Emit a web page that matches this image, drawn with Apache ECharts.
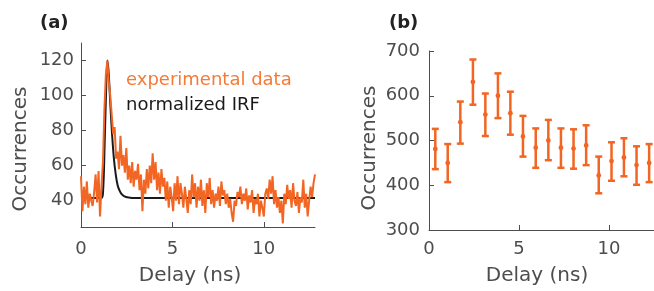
<!DOCTYPE html>
<html lang="en">
<head>
    <meta charset="UTF-8">
    <title>Delay histograms</title>
    <script src="https://cdn.jsdelivr.net/npm/echarts@6/dist/echarts.min.js"></script>
    <style>
        body, html {
            margin: 0;
            width: 100%;
            height: 100%;
            background: #fff;
        }
        #chart {
            width: 654px;
            height: 291px;
        }
    </style>
</head>
<body>
<div id="chart"></div>
<script>

    // (a) experimental trace, one value per 0.08 ns bin starting at 0
    let traceStep = 0.08;
    let traceValues = [
        54, 34, 48, 38, 51, 36, 44, 40, 37, 45, 55, 39, 57, 31,
        48, 62, 92, 112, 120, 108, 100, 99, 78, 82, 64, 68, 58, 77, 60, 66,
        56, 70, 52, 60, 50, 62, 48, 57, 52, 61, 46, 55, 34, 52, 44, 58,
        47, 60, 50, 67, 52, 62, 46, 56, 44, 58, 48, 53, 40, 51, 36, 48,
        42, 34, 50, 40, 54, 38, 50, 44, 36, 48, 41, 33, 46, 38, 55, 42,
        50, 36, 48, 40, 52, 37, 46, 33, 50, 42, 53, 38, 46, 36, 44, 40,
        48, 37, 51, 43, 46, 38, 44, 36, 41, 33, 28, 40, 37, 45, 42, 48,
        38, 44, 40, 47, 35, 43, 39, 46, 33, 41, 38, 44, 31, 40, 36, 31,
        44, 47, 41, 52, 44, 54, 38, 46, 36, 42, 33, 40, 27, 44, 38, 49,
        41, 46, 36, 50, 40, 37, 45, 33, 42, 39, 52, 36, 44, 31, 40, 48,
        42, 50, 55
    ];

    // (a) normalized IRF
    let irfTimes = [0, 1.1, 1.2, 1.3, 1.38, 1.45, 1.52, 1.6, 1.7, 1.8, 1.9, 2.0, 2.1, 2.2, 2.35, 2.6, 3.0, 12.8];
    let irfValues = [41.5, 41.5, 44, 75, 105, 120, 112, 96, 78, 64, 55, 49, 46, 44, 42.6, 41.8, 41.5, 41.5];

    // (b) binned occurrences with error bars
    let binTimes = [0.35, 1.04, 1.74, 2.44, 3.13, 3.83, 4.52, 5.22, 5.93, 6.63, 7.33, 8.03, 8.73, 9.43, 10.14, 10.83, 11.53, 12.23];
    let binValues = [481, 450, 541, 631, 558, 600, 561, 509, 484, 500, 484, 482, 489, 422, 454, 462, 445, 450];
    let binHigh = [526, 492, 587, 681, 605, 650, 609, 555, 527, 546, 527, 525, 534, 464, 496, 505, 487, 492];
    let binLow = [436, 407, 493, 580, 510, 550, 513, 464, 439, 456, 439, 437, 445, 382, 410, 420, 401, 407];

    let orange = '#f26522';
    let axisGray = '#4d4d4d';
    let font = 'DejaVu Sans';

    let traceData = traceValues.map(function (v, i) {
        return [+(i * traceStep).toFixed(2), v];
    });
    let irfData = irfTimes.map(function (t, i) {
        return [t, irfValues[i]];
    });
    let binData = binTimes.map(function (t, i) {
        return [t, binValues[i], binLow[i], binHigh[i]];
    });

    function axisCommon() {
        return {
            axisLine: {show: true, lineStyle: {color: axisGray, width: 1}},
            axisTick: {show: true, inside: true, length: 5, lineStyle: {color: axisGray}},
            axisLabel: {color: axisGray, fontSize: 18, fontFamily: font},
            splitLine: {show: false}
        };
    }

    let xA = Object.assign(axisCommon(), {
        type: 'value', gridIndex: 0, min: 0, max: 12.8
    });
    xA.axisLabel = Object.assign(xA.axisLabel, {margin: 13, customValues: [0, 5, 10]});
    xA.axisTick.customValues = [0, 5, 10];

    let xB = Object.assign(axisCommon(), {
        type: 'value', gridIndex: 1, min: 0, max: 12.5
    });
    xB.axisLabel = Object.assign(xB.axisLabel, {margin: 10, customValues: [0, 5, 10]});
    xB.axisTick.customValues = [0, 5, 10];

    let yA = Object.assign(axisCommon(), {
        type: 'value', gridIndex: 0, min: 25, max: 130
    });
    yA.axisLabel = Object.assign(yA.axisLabel, {margin: 7, customValues: [40, 60, 80, 100, 120]});
    yA.axisTick.customValues = [40, 60, 80, 100, 120];

    let yB = Object.assign(axisCommon(), {
        type: 'value', gridIndex: 1, min: 300, max: 700, interval: 100
    });
    yB.axisLabel = Object.assign(yB.axisLabel, {margin: 9});

    let nameStyle = {fill: axisGray, fontSize: 20, fontFamily: font};

    let options = {
        animation: false,
        grid: [
            {left: 81, top: 43, width: 234, height: 184},
            {left: 429, top: 51, width: 225, height: 179}
        ],
        xAxis: [xA, xB],
        yAxis: [yA, yB],
        graphic: [
            {type: 'text', left: 40, top: 14, style: {text: '(a)', fontSize: 18, fontWeight: 'bold', fontFamily: font, fill: '#222'}},
            {type: 'text', left: 389, top: 14, style: {text: '(b)', fontSize: 18, fontWeight: 'bold', fontFamily: font, fill: '#222'}},
            {type: 'text', left: 126, top: 71, style: {text: 'experimental data', fontSize: 18, fontFamily: font, fill: '#f47a38'}},
            {type: 'text', left: 126, top: 96, style: {text: 'normalized IRF', fontSize: 18, fontFamily: font, fill: '#1a1a1a'}},
            {type: 'text', x: 190, y: 276, style: Object.assign({text: 'Delay (ns)', align: 'center', verticalAlign: 'middle'}, nameStyle)},
            {type: 'text', x: 537, y: 276, style: Object.assign({text: 'Delay (ns)', align: 'center', verticalAlign: 'middle'}, nameStyle)},
            {type: 'text', x: 21, y: 149, rotation: Math.PI / 2, style: Object.assign({text: 'Occurrences', align: 'center', verticalAlign: 'middle'}, nameStyle)},
            {type: 'text', x: 370, y: 148, rotation: Math.PI / 2, style: Object.assign({text: 'Occurrences', align: 'center', verticalAlign: 'middle'}, nameStyle)}
        ],
        series: [
            {
                name: 'normalized IRF',
                type: 'line',
                xAxisIndex: 0,
                yAxisIndex: 0,
                data: irfData,
                smooth: 0.4,
                showSymbol: false,
                lineStyle: {color: '#1a1a1a', width: 2}
            },
            {
                name: 'experimental data',
                type: 'line',
                xAxisIndex: 0,
                yAxisIndex: 0,
                data: traceData,
                showSymbol: false,
                lineStyle: {color: orange, width: 2}
            },
            {
                name: 'binned',
                type: 'custom',
                xAxisIndex: 1,
                yAxisIndex: 1,
                data: binData,
                encode: {x: 0, y: [1, 2, 3]},
                renderItem: function (params, api) {
                    let x = api.value(0);
                    let mid = api.coord([x, api.value(1)]);
                    let lo = api.coord([x, api.value(2)]);
                    let hi = api.coord([x, api.value(3)]);
                    let cap = 3.5;
                    let st = {stroke: orange, lineWidth: 2.5};
                    return {
                        type: 'group',
                        children: [
                            {type: 'line', shape: {x1: hi[0], y1: hi[1], x2: lo[0], y2: lo[1]}, style: st},
                            {type: 'line', shape: {x1: hi[0] - cap, y1: hi[1], x2: hi[0] + cap, y2: hi[1]}, style: st},
                            {type: 'line', shape: {x1: lo[0] - cap, y1: lo[1], x2: lo[0] + cap, y2: lo[1]}, style: st},
                            {type: 'circle', shape: {cx: mid[0], cy: mid[1], r: 2.4}, style: {fill: orange}}
                        ]
                    };
                }
            }
        ]
    };

    let chart = echarts.init(document.getElementById('chart'));
    chart.setOption(options);

    window.addEventListener('resize', function () {
        chart.resize();
    });

</script>
</body>
</html>
